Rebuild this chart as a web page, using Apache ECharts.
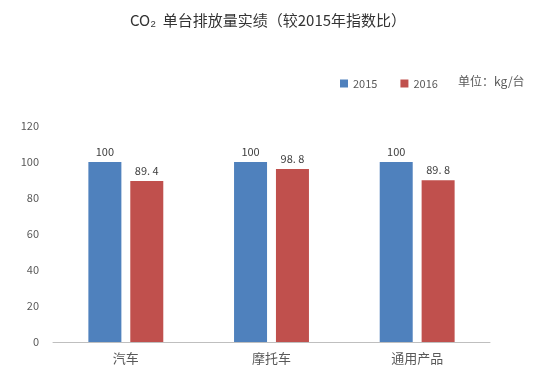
<!DOCTYPE html>
<html>
<head>
<meta charset="utf-8">
<script src="https://cdn.jsdelivr.net/npm/echarts@6/dist/echarts.min.js"></script>
<style>
html,body{margin:0;padding:0;background:#fff;}
#c{width:554px;height:375px;}
</style>
</head>
<body>
<div id="c"></div>
<script>
var categories = ['汽车', '摩托车', '通用产品'];
var seriesNames = ['2015', '2016'];
var values2015 = [100, 100, 100];
var values2016 = [89.4, 96.1, 89.8];
var labels2015 = ['100', '100', '100'];
var labels2016 = ['89. 4', '98. 8', '89. 8'];
var yTicks = [0, 20, 40, 60, 80, 100, 120];
var titleText = 'CO₂  单台排放量实绩（较2015年指数比）';
var unitText = '单位：kg/台';

var FONT = '"Noto Sans CJK SC", "Microsoft YaHei", sans-serif';
var chart = echarts.init(document.getElementById('c'), null, {renderer: 'canvas'});

function labelFmt(arr) {
  return function (p) { return arr[p.dataIndex]; };
}

chart.setOption({
  animation: false,
  backgroundColor: '#fff',
  textStyle: {fontFamily: FONT},
  title: {
    text: titleText,
    left: 263,
    textAlign: 'center',
    top: 8,
    textStyle: {fontSize: 15, fontWeight: 'normal', color: '#333', fontFamily: FONT}
  },
  legend: {
    data: seriesNames,
    left: 335,
    top: 73,
    icon: 'rect',
    itemWidth: 8,
    itemHeight: 8,
    itemGap: 23,
    textStyle: {fontSize: 11, color: '#595959', fontFamily: FONT}
  },
  graphic: [{
    type: 'text',
    left: 458,
    top: 75,
    style: {text: unitText, fontSize: 12, fill: '#595959', fontFamily: FONT}
  }],
  grid: {left: 53, right: 64, top: 126, bottom: 33},
  xAxis: {
    type: 'category',
    data: categories,
    axisLine: {lineStyle: {color: '#bfbfbf', width: 1}},
    axisTick: {show: false},
    axisLabel: {fontSize: 13, color: '#595959', margin: 10, fontFamily: FONT}
  },
  yAxis: {
    type: 'value',
    min: yTicks[0],
    max: yTicks[yTicks.length - 1],
    interval: 20,
    splitLine: {show: false},
    axisLine: {show: false},
    axisTick: {show: false},
    axisLabel: {fontSize: 11, color: '#595959', margin: 14, fontFamily: FONT}
  },
  series: [{
    name: seriesNames[0],
    type: 'bar',
    data: values2015,
    barWidth: 33,
    barGap: '27%',
    itemStyle: {color: '#4f81bd'},
    label: {show: true, position: 'top', distance: 5, formatter: labelFmt(labels2015), fontSize: 11, color: '#404040', fontFamily: FONT}
  }, {
    name: seriesNames[1],
    type: 'bar',
    data: values2016,
    barWidth: 33,
    itemStyle: {color: '#c0504d'},
    label: {show: true, position: 'top', distance: 5, formatter: labelFmt(labels2016), fontSize: 11, color: '#404040', fontFamily: FONT}
  }]
});
</script>
</body>
</html>
